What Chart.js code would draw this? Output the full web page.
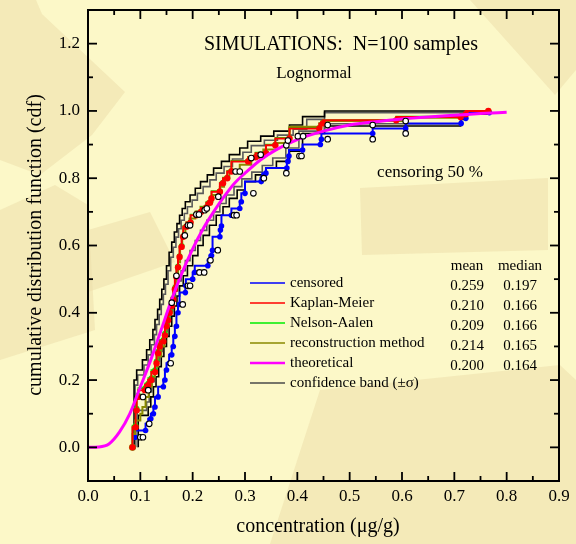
<!DOCTYPE html>
<html>
<head>
<meta charset="utf-8">
<script src="https://cdn.jsdelivr.net/npm/chart.js@4.4.0/dist/chart.umd.min.js"></script>
<style>
    body { margin: 0; background: #fbf7c6; }
    #chart-box { width: 576px; height: 544px; }
</style>
</head>
<body>
<div id="chart-box"><canvas id="cdf-chart" width="576" height="544"></canvas></div>
<script>
// axis ticks
const xTicks = [0.0, 0.1, 0.2, 0.3, 0.4, 0.5, 0.6, 0.7, 0.8, 0.9];
const xMinorTicks = [0.05, 0.15, 0.25, 0.35, 0.45, 0.55, 0.65, 0.75, 0.85];
const yTicks = [0.0, 0.2, 0.4, 0.6, 0.8, 1.0, 1.2];
const yMinorTicks = [0.1, 0.3, 0.5, 0.7, 0.9, 1.1];

// theoretical lognormal cdf
const theoX = [0, 0.02, 0.04, 0.06, 0.08, 0.10, 0.12, 0.14, 0.16, 0.18, 0.20, 0.22, 0.24, 0.26, 0.28, 0.30, 0.33, 0.36, 0.40, 0.45, 0.50, 0.55, 0.60, 0.65, 0.70, 0.75, 0.80];
const theoY = [0, 0.001, 0.01, 0.045, 0.10, 0.18, 0.26, 0.35, 0.44, 0.52, 0.59, 0.65, 0.70, 0.745, 0.785, 0.815, 0.855, 0.885, 0.915, 0.94, 0.958, 0.968, 0.976, 0.982, 0.987, 0.992, 0.996];

// censored sample (blue)
const censX = [0.086, 0.090, 0.110, 0.115, 0.120, 0.125, 0.128, 0.134, 0.144, 0.147, 0.150, 0.155, 0.160, 0.163, 0.166, 0.169, 0.172, 0.175, 0.186, 0.187, 0.200, 0.204, 0.229, 0.232, 0.236, 0.238, 0.252, 0.253, 0.255, 0.274, 0.290, 0.293, 0.300, 0.331, 0.333, 0.340, 0.380, 0.382, 0.384, 0.410, 0.444, 0.446, 0.544, 0.607, 0.713, 0.722, 0.767];
const censY = [0.000, 0.030, 0.050, 0.070, 0.085, 0.100, 0.120, 0.150, 0.180, 0.200, 0.230, 0.250, 0.275, 0.300, 0.330, 0.360, 0.400, 0.425, 0.460, 0.480, 0.500, 0.520, 0.540, 0.556, 0.570, 0.586, 0.626, 0.646, 0.658, 0.690, 0.710, 0.730, 0.755, 0.790, 0.800, 0.815, 0.830, 0.850, 0.866, 0.884, 0.900, 0.916, 0.933, 0.948, 0.963, 0.978, 0.995];
const censOpenX = [0.100, 0.105, 0.117, 0.158, 0.181, 0.191, 0.195, 0.213, 0.222, 0.234, 0.248, 0.279, 0.284, 0.316, 0.336, 0.379, 0.404, 0.408, 0.458, 0.544, 0.607];
const censOpenY = [0.030, 0.030, 0.070, 0.250, 0.425, 0.480, 0.480, 0.520, 0.520, 0.556, 0.586, 0.690, 0.690, 0.755, 0.800, 0.815, 0.866, 0.866, 0.916, 0.916, 0.933];

// Kaplan-Meier (red) and Nelson-Aalen (green)
const kmX = [0.085, 0.091, 0.093, 0.096, 0.109, 0.115, 0.121, 0.128, 0.131, 0.134, 0.137, 0.144, 0.147, 0.150, 0.153, 0.156, 0.160, 0.163, 0.166, 0.169, 0.172, 0.175, 0.179, 0.182, 0.188, 0.196, 0.207, 0.216, 0.226, 0.233, 0.236, 0.252, 0.258, 0.266, 0.274, 0.306, 0.320, 0.340, 0.358, 0.385, 0.442, 0.449, 0.589, 0.712, 0.722, 0.765];
const kmY = [0.000, 0.060, 0.110, 0.150, 0.170, 0.185, 0.200, 0.224, 0.250, 0.280, 0.300, 0.315, 0.333, 0.360, 0.378, 0.400, 0.420, 0.440, 0.470, 0.507, 0.535, 0.566, 0.596, 0.626, 0.656, 0.668, 0.690, 0.700, 0.712, 0.727, 0.740, 0.760, 0.785, 0.800, 0.820, 0.850, 0.862, 0.874, 0.898, 0.918, 0.948, 0.963, 0.972, 0.982, 0.990, 1.000];
const naX = kmX;
const naY = [0.000, 0.065, 0.115, 0.155, 0.176, 0.190, 0.206, 0.230, 0.256, 0.285, 0.305, 0.320, 0.338, 0.364, 0.382, 0.404, 0.424, 0.444, 0.473, 0.510, 0.538, 0.569, 0.599, 0.628, 0.658, 0.670, 0.692, 0.702, 0.714, 0.729, 0.742, 0.762, 0.787, 0.802, 0.822, 0.852, 0.864, 0.876, 0.900, 0.920, 0.950, 0.964, 0.973, 0.983, 0.991, 1.000];
const kmOpenX = [0.105, 0.115, 0.160, 0.169, 0.185, 0.191, 0.195, 0.207, 0.212, 0.223, 0.227, 0.249, 0.282, 0.290, 0.312, 0.330, 0.379, 0.382, 0.401, 0.411, 0.458, 0.544, 0.607];
const kmOpenY = [0.150, 0.170, 0.430, 0.510, 0.630, 0.660, 0.660, 0.692, 0.692, 0.705, 0.710, 0.745, 0.820, 0.820, 0.860, 0.870, 0.898, 0.912, 0.925, 0.925, 0.958, 0.958, 0.970];

// reconstruction method (olive)
const recX = [0.085, 0.090, 0.100, 0.104, 0.110, 0.116, 0.122, 0.128, 0.134, 0.140, 0.146, 0.150, 0.155, 0.160, 0.164, 0.168, 0.172, 0.176, 0.180, 0.186, 0.194, 0.205, 0.215, 0.228, 0.238, 0.252, 0.260, 0.270, 0.290, 0.312, 0.335, 0.360, 0.385, 0.446, 0.607, 0.712, 0.722, 0.765];
const recY = [0.000, 0.040, 0.080, 0.100, 0.120, 0.150, 0.180, 0.210, 0.240, 0.270, 0.300, 0.330, 0.360, 0.400, 0.440, 0.480, 0.515, 0.550, 0.590, 0.630, 0.660, 0.680, 0.700, 0.715, 0.730, 0.750, 0.775, 0.800, 0.820, 0.840, 0.860, 0.885, 0.905, 0.953, 0.970, 0.980, 0.990, 1.000];

// confidence bands (+/- sigma), black outer and grey inner lines
const upperX = [0.088, 0.093, 0.104, 0.112, 0.118, 0.124, 0.128, 0.133, 0.137, 0.141, 0.145, 0.150, 0.155, 0.160, 0.165, 0.170, 0.175, 0.180, 0.186, 0.195, 0.205, 0.215, 0.228, 0.240, 0.255, 0.270, 0.290, 0.305, 0.330, 0.355, 0.385, 0.410, 0.452, 0.715, 0.767];
const upperY = [0.000, 0.200, 0.230, 0.260, 0.290, 0.320, 0.350, 0.380, 0.410, 0.440, 0.470, 0.500, 0.540, 0.580, 0.610, 0.640, 0.665, 0.690, 0.710, 0.730, 0.750, 0.770, 0.790, 0.810, 0.830, 0.850, 0.870, 0.890, 0.910, 0.925, 0.940, 0.958, 0.983, 1.000, 1.000];
const upperGrayX = [0.090, 0.095, 0.107, 0.115, 0.121, 0.127, 0.131, 0.136, 0.140, 0.144, 0.148, 0.153, 0.158, 0.163, 0.168, 0.173, 0.178, 0.184, 0.190, 0.199, 0.209, 0.220, 0.233, 0.245, 0.260, 0.276, 0.296, 0.312, 0.337, 0.362, 0.392, 0.418, 0.452, 0.712, 0.767];
const upperGrayY = [0.000, 0.185, 0.215, 0.245, 0.275, 0.305, 0.335, 0.365, 0.395, 0.425, 0.455, 0.485, 0.525, 0.565, 0.595, 0.625, 0.650, 0.675, 0.695, 0.715, 0.735, 0.755, 0.775, 0.795, 0.815, 0.835, 0.857, 0.877, 0.897, 0.913, 0.928, 0.946, 0.975, 0.995, 0.995];
const lowerX = [0.096, 0.115, 0.120, 0.125, 0.130, 0.135, 0.140, 0.145, 0.150, 0.155, 0.160, 0.165, 0.170, 0.175, 0.182, 0.190, 0.200, 0.210, 0.220, 0.232, 0.245, 0.258, 0.270, 0.285, 0.300, 0.320, 0.340, 0.360, 0.385, 0.410, 0.452, 0.712, 0.722, 0.767];
const lowerY = [0.000, 0.095, 0.120, 0.150, 0.180, 0.210, 0.240, 0.270, 0.300, 0.330, 0.360, 0.390, 0.420, 0.450, 0.480, 0.510, 0.540, 0.570, 0.600, 0.630, 0.660, 0.690, 0.715, 0.740, 0.765, 0.790, 0.810, 0.830, 0.850, 0.880, 0.933, 0.955, 0.975, 0.990];
const lowerGrayX = [0.094, 0.112, 0.117, 0.122, 0.127, 0.132, 0.137, 0.142, 0.147, 0.152, 0.157, 0.162, 0.167, 0.172, 0.178, 0.186, 0.195, 0.205, 0.215, 0.227, 0.240, 0.252, 0.264, 0.279, 0.294, 0.313, 0.333, 0.353, 0.378, 0.403, 0.452, 0.712, 0.722, 0.767];
const lowerGrayY = [0.000, 0.110, 0.135, 0.165, 0.195, 0.225, 0.255, 0.285, 0.315, 0.345, 0.375, 0.405, 0.435, 0.465, 0.495, 0.525, 0.555, 0.585, 0.615, 0.645, 0.675, 0.700, 0.725, 0.750, 0.775, 0.798, 0.818, 0.838, 0.860, 0.890, 0.940, 0.962, 0.980, 0.993];

// summary table
const statsHeader = ['mean', 'median'];
const statsMean = ['0.259', '0.210', '0.209', '0.214', '0.200'];
const statsMedian = ['0.197', '0.166', '0.166', '0.165', '0.164'];

const serif = '"Liberation Serif", "Times New Roman", serif';
const toPoints = (xs, ys) => xs.map((x, i) => ({x: x, y: ys[i]}));

const stepSet = (label, xs, ys, color, extra) => Object.assign({
    label: label,
    data: toPoints(xs, ys),
    borderColor: color,
    backgroundColor: color,
    borderWidth: 1.6,
    stepped: 'after',
    pointRadius: 0,
    pointBorderWidth: 0,
    fill: false
}, extra || {});

const openSet = (xs, ys) => ({
    label: '',
    data: toPoints(xs, ys),
    showLine: false,
    pointRadius: 2.8,
    pointBackgroundColor: '#ffffff',
    pointBorderColor: '#000000',
    pointBorderWidth: 1.1,
    order: 0
});

const datasets = [
    openSet(censOpenX, censOpenY),
    openSet(kmOpenX, kmOpenY),
    {
        label: 'theoretical',
        legendRow: 4,
        data: toPoints(theoX, theoY),
        borderColor: '#ff00ff',
        borderWidth: 3,
        pointRadius: 0,
        cubicInterpolationMode: 'monotone',
        order: 1
    },
    stepSet('Kaplan-Meier', kmX, kmY, '#ff0000', {legendRow: 1, pointRadius: 3.2, borderWidth: 2, order: 2}),
    stepSet('Nelson-Aalen', naX, naY, '#00ee00', {legendRow: 2, pointRadius: 2.8, order: 3}),
    stepSet('reconstruction method', recX, recY, '#8a8a00', {legendRow: 3, borderWidth: 2,
        pointRadius: (c) => c.dataIndex === 0 ? 3.5 : 0, order: 4}),
    stepSet('censored', censX, censY, '#0000ff', {legendRow: 0, pointRadius: 2.8, borderWidth: 2, order: 5}),
    stepSet('confidence band (\u00b1\u03c3)', upperX, upperY, '#000000', {legendRow: 5, legendColor: '#4a4a4a', order: 6}),
    stepSet('', upperGrayX, upperGrayY, '#5a5a5a', {order: 6}),
    stepSet('', lowerGrayX, lowerGrayY, '#5a5a5a', {order: 6}),
    stepSet('', lowerX, lowerY, '#000000', {order: 6})
];

//soft beige patches of the slide background
const backdrop = {
    id: 'backdrop',
    beforeDraw(chart) {
        const ctx = chart.ctx;
        ctx.save();
        ctx.fillStyle = '#fcf8c8';
        ctx.fillRect(0, 0, chart.width, chart.height);
        const patches = [
            [[0, 0], [36, 0], [42, 14], [125, 92], [92, 135], [40, 175], [0, 160]],
            [[0, 210], [55, 185], [88, 205], [95, 330], [0, 360]],
            [[88, 230], [150, 212], [175, 262], [88, 292]],
            [[270, 544], [320, 390], [560, 365], [576, 380], [576, 544]],
            [[470, 0], [576, 0], [576, 70], [555, 95]],
            [[360, 188], [548, 178], [548, 250], [362, 255]]
        ];
        ctx.fillStyle = 'rgba(236, 222, 172, 0.55)';
        patches.forEach(poly => {
            ctx.beginPath();
            poly.forEach(([px, py], i) => i ? ctx.lineTo(px, py) : ctx.moveTo(px, py));
            ctx.closePath();
            ctx.fill();
        });
        ctx.restore();
    }
};

//frame, inward ticks and all the text inside the plot
const decorations = {
    id: 'decorations',
    afterDraw(chart) {
        const {ctx, chartArea: a, scales: {x, y}} = chart;
        ctx.save();
        ctx.strokeStyle = '#000';
        ctx.lineWidth = 2;
        ctx.strokeRect(a.left, a.top, a.right - a.left, a.bottom - a.top);

        const tick = (x1, y1, x2, y2) => { ctx.beginPath(); ctx.moveTo(x1, y1); ctx.lineTo(x2, y2); ctx.stroke(); };
        ctx.lineWidth = 1.8;
        xTicks.concat(xMinorTicks).forEach(v => {
            const px = x.getPixelForValue(v);
            const len = xMinorTicks.includes(v) ? 5 : 9;
            tick(px, a.bottom, px, a.bottom - len);
            tick(px, a.top, px, a.top + len);
        });
        yTicks.concat(yMinorTicks).forEach(v => {
            const py = y.getPixelForValue(v);
            const len = yMinorTicks.includes(v) ? 5 : 9;
            tick(a.left, py, a.left + len, py);
            tick(a.right, py, a.right - len, py);
        });

        ctx.fillStyle = '#000';
        ctx.textBaseline = 'middle';
        ctx.textAlign = 'center';
        ctx.font = `20px ${serif}`;
        ctx.fillText('SIMULATIONS:  N=100 samples', 341, 45);
        ctx.font = `17px ${serif}`;
        ctx.fillText('Lognormal', 314, 74);
        ctx.fillText('censoring 50 %', 430, 173);

        // axis titles
        ctx.font = `20px ${serif}`;
        ctx.fillText('concentration (\u03bcg/g)', 318, 527);
        ctx.save();
        ctx.translate(36, 245);
        ctx.rotate(-Math.PI / 2);
        ctx.fillText('cumulative distribution function (cdf)', 0, 0);
        ctx.restore();

        // legend
        ctx.font = `15px ${serif}`;
        ctx.textAlign = 'left';
        chart.data.datasets.filter(d => d.legendRow !== undefined).forEach(d => {
            const ly = 283 + d.legendRow * 20;
            ctx.strokeStyle = d.legendColor || d.borderColor;
            ctx.lineWidth = d.legendRow === 4 ? 2.5 : 1.6;
            tick(250, ly, 285, ly);
            ctx.fillText(d.label, 290, ly);
        });

        // mean / median table
        ctx.textAlign = 'center';
        ctx.fillText(statsHeader[0], 467, 266);
        ctx.fillText(statsHeader[1], 520, 266);
        statsMean.forEach((m, i) => {
            ctx.fillText(m, 467, 286 + i * 20);
            ctx.fillText(statsMedian[i], 520, 286 + i * 20);
        });
        ctx.restore();
    }
};

const tickFont = {family: serif, size: 17};

new Chart(document.getElementById('cdf-chart'), {
    type: 'line',
    data: {datasets: datasets},
    options: {
        responsive: false,
        animation: false,
        layout: {padding: {top: 10, right: 17, left: 0, bottom: 0}},
        plugins: {
            legend: {display: false},
            tooltip: {enabled: false}
        },
        scales: {
            x: {
                type: 'linear',
                min: 0,
                max: 0.9,
                afterBuildTicks: (s) => { s.ticks = xTicks.map(v => ({value: v})) },
                afterFit: (s) => { s.height = 63; s.paddingLeft = 0; s.paddingRight = 0 },
                grid: {display: false, drawTicks: false},
                border: {display: false},
                ticks: {font: tickFont, color: '#000', padding: 5, maxRotation: 0, autoSkip: false,
                    callback: (v) => Number(v).toFixed(1)}
            },
            y: {
                type: 'linear',
                min: -0.1,
                max: 1.3,
                afterBuildTicks: (s) => { s.ticks = yTicks.map(v => ({value: v})) },
                afterFit: (s) => { s.width = 88; s.paddingTop = 0; s.paddingBottom = 0 },
                grid: {display: false, drawTicks: false},
                border: {display: false},
                ticks: {font: tickFont, color: '#000', padding: 8, autoSkip: false,
                    callback: (v) => Number(v).toFixed(1)}
            }
        }
    },
    plugins: [backdrop, decorations]
});
</script>
</body>
</html>
